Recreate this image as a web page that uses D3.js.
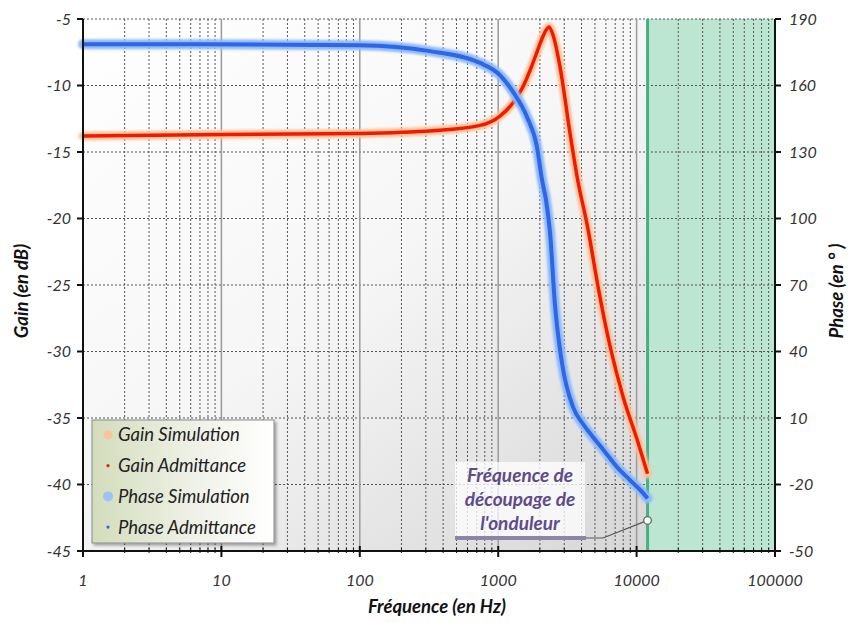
<!DOCTYPE html>
<html><head><meta charset="utf-8">
<script src="https://cdn.jsdelivr.net/npm/d3@7"></script>
<style>
html,body{margin:0;padding:0;background:#fff;}
svg{display:block;font-family:Lato,"Open Sans",sans-serif;}
</style></head>
<body><svg id="chart" width="848" height="623"></svg>
<script>
// ---- data ----
const gainFreq = [1, 7, 100, 338, 739, 1030, 1280, 1510, 1783, 1950, 2108, 2200, 2330, 2489, 2797, 3304, 3707, 4456, 5260, 6427, 7980, 10070, 12000];
const gainSim  = [-13.8, -13.7, -13.6, -13.4, -13.0, -12.3, -11.3, -10.1, -8.3, -7.2, -6.3, -5.9, -5.6, -6.2, -8.6, -13.6, -16.8, -20.8, -25.1, -29.6, -33.4, -36.6, -39.2];
const gainAdm  = [-13.8, -13.7, -13.6, -13.4, -13.0, -12.3, -11.3, -10.1, -8.3, -7.2, -6.3, -5.9, -5.6, -6.2, -8.6, -13.6, -16.8, -20.8, -25.1, -29.6, -33.4, -36.6, -39.2];
const phaseFreq = [1, 7, 100, 321, 739, 1030, 1280, 1615, 1906, 2073, 2215, 2367, 2572, 2890, 3470, 4100, 4840, 5913, 7215, 8955, 11120, 12000];
const phaseSim  = [178.6, 178.6, 178.2, 175.5, 170.2, 164.7, 157.1, 145.8, 132.3, 117.4, 108.3, 93.9, 61.0, 34.8, 15.0, 7.3, 1.4, -5.3, -12.1, -18.0, -23.8, -26.3];
const phaseAdm  = [178.6, 178.6, 178.2, 175.5, 170.2, 164.7, 157.1, 145.8, 132.3, 117.4, 108.3, 93.9, 61.0, 34.8, 15.0, 7.3, 1.4, -5.3, -12.1, -18.0, -23.8, -26.3];
const xTicks = [1, 10, 100, 1000, 10000, 100000];
const gainTicks = [-5, -10, -15, -20, -25, -30, -35, -40, -45];
const phaseTicks = [190, 160, 130, 100, 70, 40, 10, -20, -50];
const switchFreq = 12000;
const legendItems = ["Gain Simulation", "Gain Admittance", "Phase Simulation", "Phase Admittance"];
const annotationLines = ["Fréquence de", "découpage de", "l'onduleur"];
const annotationAnchorGain = -42.7;

// ---- layout ----
const W = 848, H = 623;
const m = {l: 83, r: 73, t: 19, b: 72};
const svg = d3.select("#chart");
const x = d3.scaleLog().domain([1, 100000]).range([m.l, W - m.r]);
const yG = d3.scaleLinear().domain([-45, -5]).range([H - m.b, m.t]);
const yP = d3.scaleLinear().domain([-50, 190]).range([H - m.b, m.t]);
const x0 = m.l, x1 = W - m.r, y0 = m.t, y1 = H - m.b;

const defs = svg.append("defs");
const bg = defs.append("linearGradient").attr("id", "bg").attr("x1", 0).attr("y1", 0).attr("x2", 1).attr("y2", 1);
bg.append("stop").attr("offset", "0%").attr("stop-color", "#ffffff");
bg.append("stop").attr("offset", "45%").attr("stop-color", "#f6f6f6");
bg.append("stop").attr("offset", "100%").attr("stop-color", "#d0d0d0");
const lg = defs.append("linearGradient").attr("id", "lg").attr("x1", 0).attr("y1", 0).attr("x2", 1).attr("y2", 0);
lg.append("stop").attr("offset", "0%").attr("stop-color", "#d3dcbb");
lg.append("stop").attr("offset", "55%").attr("stop-color", "#eef1e6");
lg.append("stop").attr("offset", "100%").attr("stop-color", "#ffffff");
const sh = defs.append("filter").attr("id", "sh").attr("x", "-10%").attr("y", "-10%").attr("width", "130%").attr("height", "130%");
sh.append("feDropShadow").attr("dx", 2).attr("dy", 2).attr("stdDeviation", 1.5).attr("flood-color", "#000").attr("flood-opacity", 0.35);
const blur = defs.append("filter").attr("id", "blur").attr("x", "-5%").attr("y", "-5%").attr("width", "110%").attr("height", "110%");
blur.append("feGaussianBlur").attr("stdDeviation", 1.2);

// plot background
svg.append("rect").attr("x", x0).attr("y", y0).attr("width", x1 - x0).attr("height", y1 - y0).attr("fill", "url(#bg)");
// green band beyond switching frequency
svg.append("rect").attr("x", x(switchFreq)).attr("y", y0).attr("width", x1 - x(switchFreq)).attr("height", y1 - y0).attr("fill", "#bce6d2");

// grid
const g = svg.append("g");
gainTicks.forEach(v => {
  g.append("line").attr("x1", x0).attr("x2", x1).attr("y1", yG(v)).attr("y2", yG(v))
    .attr("stroke", "#555").attr("stroke-width", 1).attr("stroke-dasharray", "2,2");
});
for (let d = 1; d < 100000; d *= 10) {
  for (let k = 2; k <= 9; k++) {
    const xv = x(d * k);
    g.append("line").attr("x1", xv).attr("x2", xv).attr("y1", y0).attr("y2", y1)
      .attr("stroke", "#555").attr("stroke-width", 1).attr("stroke-dasharray", "2,2");
  }
}
xTicks.slice(1, -1).forEach(v => {
  g.append("line").attr("x1", x(v)).attr("x2", x(v)).attr("y1", y0).attr("y2", y1)
    .attr("stroke", "#9a9a9a").attr("stroke-width", 1.5);
});
// switching frequency line
svg.append("line").attr("x1", x(switchFreq)).attr("x2", x(switchFreq)).attr("y1", y0).attr("y2", y1)
  .attr("stroke", "#47b083").attr("stroke-width", 3);

// curves
const lineG = (ys) => d3.line().x((d, i) => x(gainFreq[i])).y((d, i) => yG(ys[i])).curve(d3.curveMonotoneX)(ys);
const lineP = (ys) => d3.line().x((d, i) => x(phaseFreq[i])).y((d, i) => yP(ys[i])).curve(d3.curveMonotoneX)(ys);
svg.append("path").attr("d", lineG(gainSim)).attr("fill", "none").attr("stroke", "#fbc39a").attr("stroke-width", 9).attr("stroke-linecap", "round").attr("filter", "url(#blur)");
svg.append("path").attr("d", lineG(gainAdm)).attr("fill", "none").attr("stroke", "#f01a00").attr("stroke-width", 3.5);
svg.append("path").attr("d", lineP(phaseSim)).attr("fill", "none").attr("stroke", "#8fbaf6").attr("stroke-width", 10).attr("stroke-linecap", "round").attr("filter", "url(#blur)");
svg.append("path").attr("d", lineP(phaseAdm)).attr("fill", "none").attr("stroke", "#2d66e6").attr("stroke-width", 4);

// axes lines
const ax = svg.append("g").attr("stroke", "#111");
ax.append("line").attr("x1", x0).attr("x2", x0).attr("y1", y0).attr("y2", y1).attr("stroke-width", 2);
ax.append("line").attr("x1", x1).attr("x2", x1).attr("y1", y0).attr("y2", y1).attr("stroke-width", 2);
ax.append("line").attr("x1", x0).attr("x2", x1).attr("y1", y1).attr("y2", y1).attr("stroke-width", 2);
gainTicks.forEach(v => ax.append("line").attr("x1", x0 - 6).attr("x2", x0).attr("y1", yG(v)).attr("y2", yG(v)).attr("stroke-width", 2));
phaseTicks.forEach(v => ax.append("line").attr("x1", x1).attr("x2", x1 + 6).attr("y1", yP(v)).attr("y2", yP(v)).attr("stroke-width", 2));
xTicks.forEach(v => ax.append("line").attr("x1", x(v)).attr("x2", x(v)).attr("y1", y1 - 5).attr("y2", y1 + 6).attr("stroke-width", 2));
for (let d = 1; d < 100000; d *= 10) {
  for (let k = 2; k <= 9; k++) {
    ax.append("line").attr("x1", x(d * k)).attr("x2", x(d * k)).attr("y1", y1 - 3).attr("y2", y1 + 2).attr("stroke-width", 1);
  }
}

// tick labels
const tl = svg.append("g").attr("font-style", "italic").attr("font-size", 16).attr("fill", "#333");
gainTicks.forEach(v => tl.append("text").attr("x", x0 - 12).attr("y", yG(v)).attr("dy", "0.35em").attr("text-anchor", "end").text(v));
phaseTicks.forEach(v => tl.append("text").attr("x", x1 + 14).attr("y", yP(v)).attr("dy", "0.35em").attr("text-anchor", "start").text(v));
xTicks.forEach(v => tl.append("text").attr("x", x(v)).attr("y", y1 + 35).attr("text-anchor", "middle").text(v));

// axis titles
const tt = svg.append("g").attr("font-style", "italic").attr("font-weight", "bold").attr("font-size", 18.5).attr("fill", "#111");
tt.append("text").attr("x", (x0 + x1) / 2 + 8).attr("y", 613).attr("text-anchor", "middle").text("Fréquence (en Hz)");
tt.append("text").attr("transform", `translate(28,${(y0 + y1) / 2 + 6}) rotate(-90)`).attr("text-anchor", "middle").text("Gain (en dB)");
tt.append("text").attr("transform", `translate(843,${(y0 + y1) / 2 + 6}) rotate(-90)`).attr("text-anchor", "middle").text("Phase (en ° )");

// legend
const L = svg.append("g");
L.append("rect").attr("x", 92).attr("y", 420).attr("width", 182).attr("height", 123).attr("fill", "url(#lg)").attr("stroke", "#8a8a8a").attr("stroke-width", 1).attr("filter", "url(#sh)");
const legendStyle = [
  {c: "#fbc39a", r: 4.5}, {c: "#e82000", r: 1.6}, {c: "#9cc3f7", r: 5}, {c: "#2d66e6", r: 1.6}
];
legendItems.forEach((name, i) => {
  const yy = 435 + i * 30.7;
  L.append("circle").attr("cx", 108).attr("cy", yy).attr("r", legendStyle[i].r).attr("fill", legendStyle[i].c);
  L.append("text").attr("x", 118).attr("y", yy).attr("dy", "0.35em").attr("font-style", "italic").attr("font-size", 18.5).attr("fill", "#222").text(name);
});

// annotation
const A = svg.append("g");
A.append("rect").attr("x", 455).attr("y", 462).attr("width", 130).attr("height", 75).attr("fill", "#ffffff").attr("opacity", 0.75);
const ax0 = x(switchFreq), ay0 = yG(annotationAnchorGain);
A.append("path").attr("d", `M585,538 L603,538 L${ax0},${ay0}`).attr("fill", "none").attr("stroke", "#555").attr("stroke-width", 1.2);
A.append("line").attr("x1", 455).attr("x2", 586).attr("y1", 538).attr("y2", 538).attr("stroke", "#8e84a6").attr("stroke-width", 4);
A.append("circle").attr("cx", ax0).attr("cy", ay0).attr("r", 3.8).attr("fill", "#fff").attr("stroke", "#666").attr("stroke-width", 1.3);
annotationLines.forEach((t, i) => {
  A.append("text").attr("x", 520).attr("y", 475 + i * 24).attr("dy", "0.35em").attr("text-anchor", "middle")
    .attr("font-style", "italic").attr("font-weight", "bold").attr("font-size", 19).attr("fill", "#5e4b8a").text(t);
});
</script></body></html>
